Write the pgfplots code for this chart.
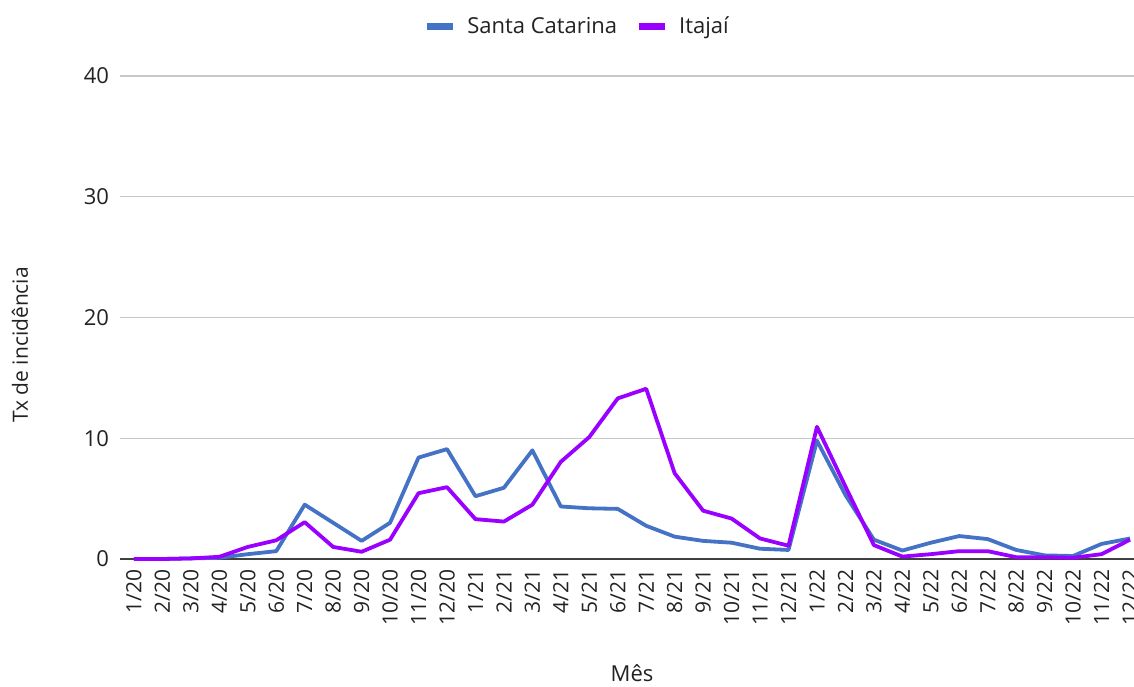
\documentclass[border=0pt]{standalone}
\usepackage{pgfplots}
\pgfplotsset{compat=1.18}
\usepackage{pgfplotstable}
\usepackage{fontspec}
\setmainfont{Open Sans}
\definecolor{scblue}{HTML}{4472C4}
\definecolor{itpurple}{HTML}{9900FF}
\definecolor{txtgray}{HTML}{222222}
\pgfplotstableread{
i sc it
0 0 0
1 0 0
2 0.05 0.05
3 0.1 0.18
4 0.4 1.0
5 0.65 1.55
6 4.5 3.05
7 3.0 1.0
8 1.5 0.6
9 3.0 1.6
10 8.4 5.45
11 9.1 5.95
12 5.2 3.3
13 5.9 3.1
14 9.0 4.5
15 4.35 8.05
16 4.2 10.1
17 4.15 13.3
18 2.75 14.1
19 1.85 7.1
20 1.5 4.0
21 1.35 3.35
22 0.85 1.7
23 0.75 1.1
24 9.8 10.95
25 5.3 6.0
26 1.6 1.15
27 0.7 0.2
28 1.35 0.4
29 1.9 0.65
30 1.65 0.65
31 0.75 0.15
32 0.3 0.15
33 0.25 0.1
34 1.25 0.4
35 1.7 1.6
}\data
\begin{document}
\begin{tikzpicture}
\begin{axis}[
  at={(0,0)}, anchor=south west,
  scale only axis,
  width=507pt, height=241.5pt,
  xmin=-0.49, xmax=35.14,
  ymin=0, ymax=40,
  ytick={10,20,30,40},
  extra y ticks={0},
  extra y tick style={grid style={draw=black!75, line width=1pt}},
  xtick={0,...,35},
  xticklabels={1/20,2/20,3/20,4/20,5/20,6/20,7/20,8/20,9/20,10/20,11/20,12/20,1/21,2/21,3/21,4/21,5/21,6/21,7/21,8/21,9/21,10/21,11/21,12/21,1/22,2/22,3/22,4/22,5/22,6/22,7/22,8/22,9/22,10/22,11/22,12/22},
  x tick label style={rotate=90, anchor=east, font=\fontsize{10.5}{12}\selectfont, text=txtgray, inner sep=1pt},
  y tick label style={font=\fontsize{11}{13}\selectfont, text=txtgray},
  xticklabel shift=4pt,
  yticklabel shift=2pt,
  /pgf/number format/assume math mode=true,
  major tick length=0pt,
  ymajorgrids,
  grid style={draw=black!22, line width=0.6pt},
  axis line style={draw=none},
  clip=false,
  legend style={at={(229pt,266pt)}, anchor=center, draw=none, fill=none,
    legend columns=2, font=\fontsize{11}{13}\selectfont, text=txtgray,
    /tikz/every odd column/.append style={column sep=3.5pt},
    /tikz/every even column/.append style={column sep=7pt}},
  legend image code/.code={\draw[line width=3.5pt,#1] (0pt,0pt) -- (13pt,0pt);},
]
\addplot[color=scblue, line width=1.9pt, line join=round] table[x=i, y=sc] {\data};
\addlegendentry{Santa Catarina}
\addplot[color=itpurple, line width=1.9pt, line join=round] table[x=i, y=it] {\data};
\addlegendentry{Itajaí}
\end{axis}
\node[rotate=90, font=\fontsize{10.5}{12}\selectfont, text=txtgray] at (-50pt,107pt) {Tx de incidência};
\node[font=\fontsize{11}{13}\selectfont, text=txtgray] at (256pt,-57pt) {Mês};
\pgfresetboundingbox
\path[use as bounding box] (-60pt,-63.5pt) rectangle (507pt,279.5pt);
\end{tikzpicture}
\end{document}
